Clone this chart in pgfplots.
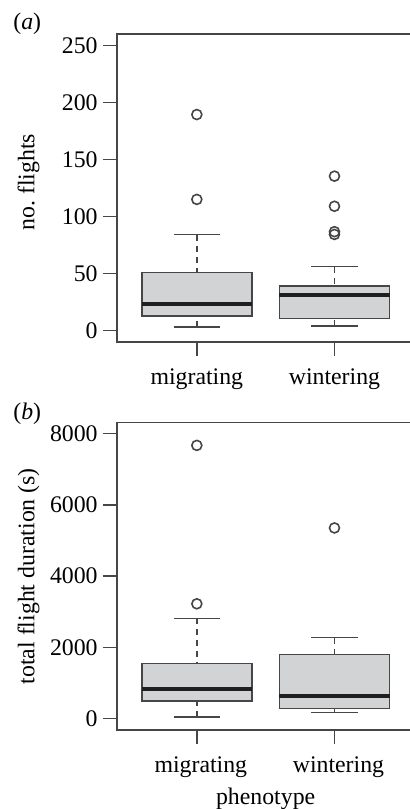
\documentclass[border=0pt]{standalone}
\usepackage{fontspec}
\setmainfont{Liberation Serif}
\usepackage{pgfplots}
\pgfplotsset{compat=1.18}
\usepgfplotslibrary{statistics}

\definecolor{boxfill}{RGB}{210,211,213}
\definecolor{boxline}{RGB}{70,70,70}
\newcommand{\rfont}{\fontsize{11.9}{14}\selectfont}

% R-style boxplots: dashed stem, solid staple
\pgfplotsset{
  boxplot/draw/lower whisker/.code={%
    \draw[boxline,line width=0.7pt,dash pattern=on 3pt off 2.5pt]
      (boxplot cs:\pgfplotsboxplotvalue{lower whisker}) --
      (boxplot cs:\pgfplotsboxplotvalue{lower quartile});
    \draw[boxline,line width=0.7pt]
      (boxplot whisker cs:\pgfplotsboxplotvalue{lower whisker},0) --
      (boxplot whisker cs:\pgfplotsboxplotvalue{lower whisker},1);
  },
  boxplot/draw/upper whisker/.code={%
    \draw[boxline,line width=0.7pt,dash pattern=on 3pt off 2.5pt]
      (boxplot cs:\pgfplotsboxplotvalue{upper whisker}) --
      (boxplot cs:\pgfplotsboxplotvalue{upper quartile});
    \draw[boxline,line width=0.7pt]
      (boxplot whisker cs:\pgfplotsboxplotvalue{upper whisker},0) --
      (boxplot whisker cs:\pgfplotsboxplotvalue{upper whisker},1);
  },
  rbox/.style={
    scale only axis,
    width=148.65pt,
    xmin=0.42, xmax=2.58,
    xtick={1,2}, xticklabels={migrating,wintering},
    tick align=outside,
    major tick length=7pt,
    tick style={boxline,line width=0.7pt},
    xtick pos=bottom, ytick pos=left,
    axis line style={boxline,line width=0.7pt},
    /pgf/number format/assume math mode=true,
    /pgf/number format/1000 sep={},
    tick label style={font=\rfont},
    label style={font=\rfont},
    yticklabel style={inner sep=2.5pt},
    xticklabel style={inner sep=1pt, yshift=-5pt},
    every axis y label/.style={rotate=90, anchor=center},
    boxplot/draw direction=y,
    boxplot/box extend=0.8,
    boxplot/whisker extend=0.335,
    boxplot/every box/.style={draw=boxline,fill=boxfill,line width=0.75pt},
    boxplot/every median/.style={draw=black!88,line width=2pt},
  },
  rdata/.style={
    solid, mark=o, mark size=2.5pt,
    mark options={draw=boxline,line width=0.8pt},
    boxline,
  },
}

\begin{document}
\rfont
\begin{tikzpicture}[font=\rfont]
\begin{axis}[rbox,
  at={(58.5pt,-171pt)}, anchor=south west,
  height=154pt,
  ymin=-10, ymax=260,
  ytick={0,50,100,150,200,250},
  ylabel={no.\ flights},
  ylabel style={at={(axis description cs:-0.2977,0.5195)}},
]
\addplot+[rdata, boxplot prepared={
    lower whisker=3.2, lower quartile=12.8, median=23.3,
    upper quartile=51, upper whisker=84, draw position=1}]
  coordinates {(0,189.4) (0,115)};
\addplot+[rdata, boxplot prepared={
    lower whisker=4, lower quartile=10.8, median=31,
    upper quartile=39, upper whisker=56, draw position=2}]
  coordinates {(0,135.4) (0,109) (0,86.7) (0,84.3)};
\end{axis}

\begin{axis}[rbox,
  at={(58.5pt,-365pt)}, anchor=south west,
  height=153.85pt,
  ymin=-320, ymax=8320,
  ytick={0,2000,4000,6000,8000},
  xticklabel style={xshift=2pt},
  ylabel={total flight duration (s)},
  ylabel style={at={(axis description cs:-0.2977,0.5)}},
  xlabel={phenotype},
]
\addplot+[rdata, boxplot prepared={
    lower whisker=48, lower quartile=496, median=832,
    upper quartile=1553, upper whisker=2814, draw position=1}]
  coordinates {(0,7672) (0,3224)};
\addplot+[rdata, boxplot prepared={
    lower whisker=168, lower quartile=291, median=628,
    upper quartile=1805, upper whisker=2271, draw position=2}]
  coordinates {(0,5354)};
\end{axis}

\node[anchor=west,inner sep=0pt] at (6.5pt,-11.7pt) {(\textit{a})};
\node[anchor=west,inner sep=0pt] at (6.5pt,-207pt) {(\textit{b})};

\pgfresetboundingbox
\useasboundingbox (0,0) rectangle (205pt,-404.5pt);
\end{tikzpicture}
\end{document}
